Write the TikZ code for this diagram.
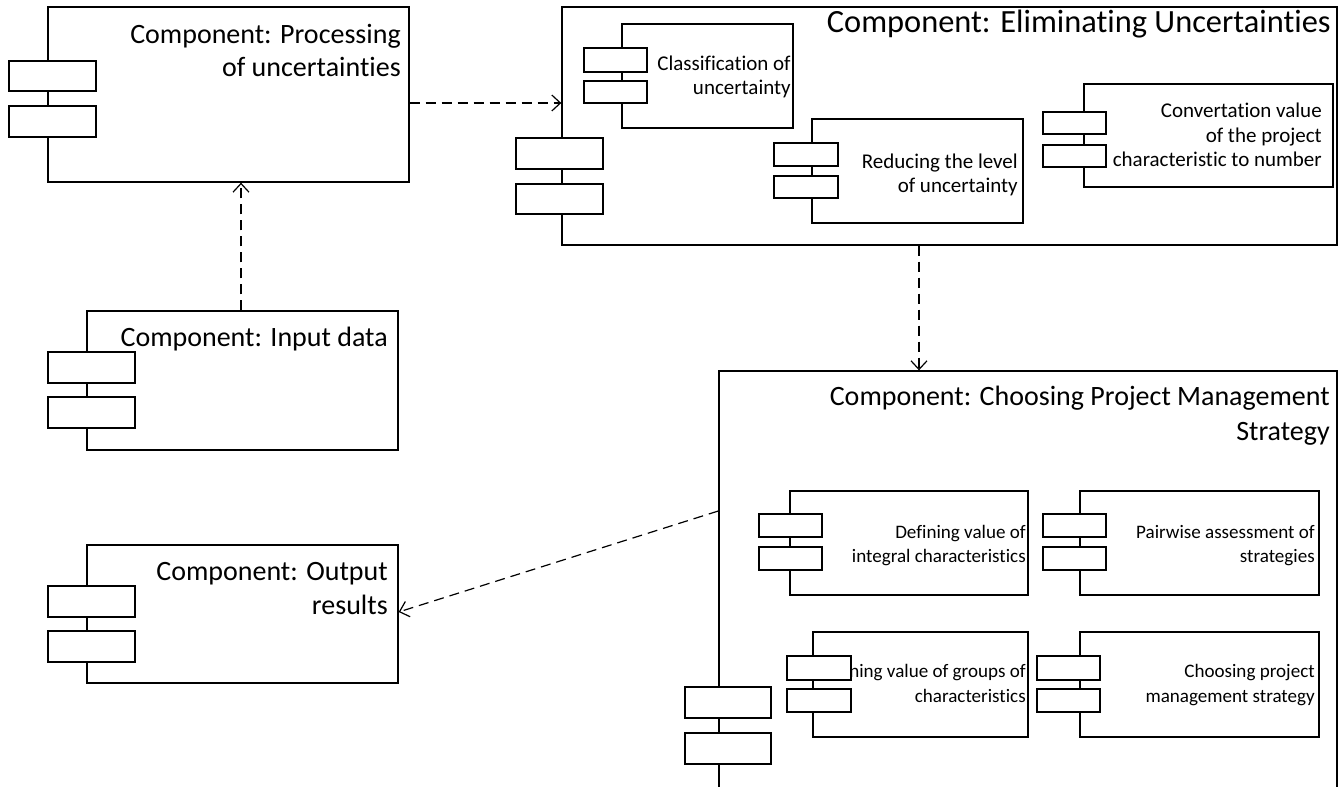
\documentclass[tikz,border=0pt]{standalone}
\usepackage{fontspec}
\setmainfont{Carlito}[Ligatures=NoCommon]
\usetikzlibrary{fit,arrows.meta}
\newcommand{\cbox}[5]{\node[box, fit={(#2,#3) (#4,#5)}] (#1) {};}
\begin{document}
\begin{tikzpicture}[x=0.75pt,y=-0.75pt,
  box/.style={draw, line width=1pt, fill=white, inner sep=0pt},
  ttl/.style={font=\fontsize{21pt}{25pt}\selectfont, inner sep=0pt, anchor=base east},
  ttlbig/.style={font=\fontsize{24.3pt}{28pt}\selectfont, inner sep=0pt, anchor=base east},
  sub/.style={font=\fontsize{15.75pt}{19pt}\selectfont, inner sep=0pt, anchor=base east},
  subs/.style={font=\fontsize{14.3pt}{18pt}\selectfont, inner sep=0pt, anchor=base east},
  dep/.style={draw, line width=0.9pt, dash pattern=on 7.5pt off 4.5pt, -{Straight Barb[length=6.5pt,width=12pt]}}]
\useasboundingbox (0,0) rectangle (1340,787);
\clip (0,0) rectangle (1340,787);
\fill[white] (0,0) rectangle (1340,787);

% Processing of uncertainties
\cbox{proc}{48}{7}{409}{182}
\cbox{procpa}{9}{61}{96}{91}
\cbox{procpb}{9}{106}{96}{137}
\node[ttl] (proct1) at (401,44) {Component: Processing};
\node[ttl] (proct2) at (401,77) {of uncertainties};

% Eliminating uncertainties
\cbox{elim}{562}{7}{1337}{245}
\cbox{elimpa}{516}{138}{603}{169}
\cbox{elimpb}{516}{184}{603}{214}
\node[ttlbig] (elimt) at (1331,33) {Component: Eliminating Uncertainties};

\cbox{cls}{622}{24}{793}{128}
\cbox{clspa}{584}{48}{647}{72}
\cbox{clspb}{584}{81}{647}{103}
\node[sub] (clst1) at (791,71) {Classification of};
\node[sub] (clst2) at (791,95) {uncertainty};

\cbox{red}{812}{119}{1023}{223}
\cbox{redpa}{774}{143}{838}{166}
\cbox{redpb}{774}{176}{838}{198}
\node[sub] (redt1) at (1018,169) {Reducing the level};
\node[sub] (redt2) at (1018,193) {of uncertainty};

\cbox{conv}{1084}{84}{1333}{187}
\cbox{convpa}{1043}{112}{1106}{134}
\cbox{convpb}{1043}{145}{1106}{167}
\node[sub] (convt1) at (1322,118) {Convertation value};
\node[sub] (convt2) at (1322,143) {of the project};
\node[sub] (convt3) at (1322,167) {characteristic to number};

% Choosing project management strategy
\cbox{cps}{719}{371}{1337}{830}
\cbox{cpspa}{685}{687}{771}{718}
\cbox{cpspb}{685}{733}{771}{764}
\node[ttl] (cpst1) at (1330,406) {Component: Choosing Project Management};
\node[ttl] (cpst2) at (1330,441) {Strategy};

\cbox{def}{790}{491}{1028}{595}
\cbox{defpa}{759}{514}{822}{537}
\cbox{defpb}{759}{547}{822}{570}
\node[subs] (deft1) at (1026,539) {Defining value of};
\node[subs] (deft2) at (1026,563) {integral characteristics};

\cbox{pair}{1080}{491}{1319}{595}
\cbox{pairpa}{1043}{514}{1106}{537}
\cbox{pairpb}{1043}{547}{1106}{570}
\node[subs] (pairt1) at (1315,539) {Pairwise assessment of};
\node[subs] (pairt2) at (1315,563) {strategies};

\cbox{grp}{813}{632}{1028}{737}
\node[subs] (grpt1) at (1026,678) {Defining value of groups of};
\node[subs] (grpt2) at (1026,703) {characteristics};
\cbox{grppa}{787}{656}{851}{680}
\cbox{grppb}{787}{689}{851}{712}

\cbox{chs}{1080}{632}{1319}{737}
\cbox{chspa}{1037}{656}{1100}{680}
\cbox{chspb}{1037}{689}{1100}{712}
\node[subs] (chst1) at (1315,678) {Choosing project};
\node[subs] (chst2) at (1315,703) {management strategy};

% Input data
\cbox{inp}{87}{311}{398}{450}
\cbox{inppa}{48}{352}{135}{383}
\cbox{inppb}{48}{397}{135}{428}
\node[ttl] (inpt) at (388,347) {Component: Input data};

% Output results
\cbox{out}{87}{545}{398}{683}
\cbox{outpa}{48}{586}{135}{617}
\cbox{outpb}{48}{631}{135}{662}
\node[ttl] (outt1) at (388,581) {Component: Output};
\node[ttl] (outt2) at (388,615) {results};

% connectors
\coordinate (y1) at (0,103);
\coordinate (x2) at (241,0);
\coordinate (x3) at (919,0);
\coordinate (y4a) at (0,511);
\coordinate (y4b) at (0,612);
\draw[dep] (proc.east |- y1) -- (elim.west |- y1);
\draw[dep] (inp.north -| x2) -- (proc.south -| x2);
\draw[dep] (elim.south -| x3) -- (cps.north -| x3);
\draw[dep] (cps.west |- y4a) -- (out.east |- y4b);
\end{tikzpicture}
\end{document}
